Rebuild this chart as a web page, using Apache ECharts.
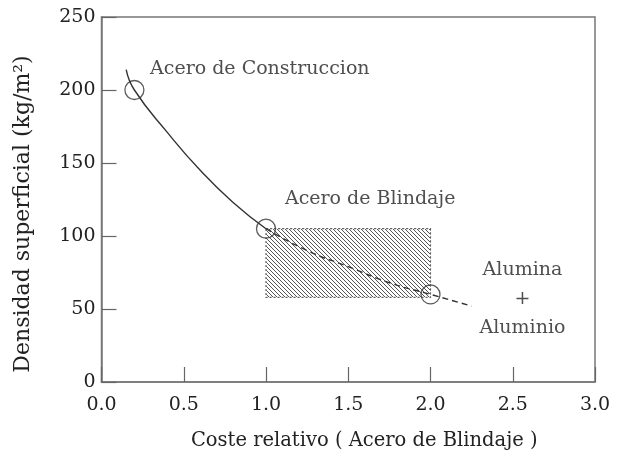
<!DOCTYPE html>
<html><head><meta charset="utf-8">
<script src="https://cdn.jsdelivr.net/npm/echarts@6/dist/echarts.min.js"></script>
<style>html,body{margin:0;padding:0;background:#fff}#c{width:623px;height:456px}</style>
</head><body><div id="c"></div>
<script>
// Data
var materials = ['Acero de Construccion', 'Acero de Blindaje', 'Alumina\n+\nAluminio'];
var costs = [0.2, 1.0, 2.0];
var densities = [200, 105, 60];
var curveSolid = [[0.15, 214], [0.2, 200], [0.4, 171], [0.6, 145], [0.8, 123], [1.0, 105]];
var curveDashed = [[1.0, 105], [1.25, 90], [1.5, 79], [1.75, 68], [2.0, 60], [2.25, 52]];
var hatchBox = [[1.0, 58, 2.0, 105]];
var labelPos = [[0.295, 214.6], [1.115, 125.3], [2.559, 56.5]];
var xTicks = ['0.0', '0.5', '1.0', '1.5', '2.0', '2.5', '3.0'];
var yTicks = [0, 50, 100, 150, 200, 250];
var xTitle = 'Coste relativo ( Acero de Blindaje )';
var yTitle = 'Densidad superficial (kg/m²)';

var FONT = 'DejaVu Serif';
var INK = '#222';

// hatch pattern
var pc = document.createElement('canvas');
pc.width = 4; pc.height = 4;
var g = pc.getContext('2d');
g.strokeStyle = '#555'; g.lineWidth = 1;
for (var i = -4; i <= 4; i += 4) { g.beginPath(); g.moveTo(i, 0); g.lineTo(i + 4, 4); g.stroke(); }

var chart = echarts.init(document.getElementById('c'), null, {renderer: 'canvas'});
chart.setOption({
  animation: false,
  backgroundColor: '#fff',
  grid: {left: 101.5, right: 28, top: 17, bottom: 72, show: true, borderColor: '#777', borderWidth: 1.5},
  graphic: [{
    type: 'text', x: 23, y: 214, rotation: Math.PI / 2, silent: true,
    style: {text: yTitle, fontFamily: FONT, fontSize: 22, fill: INK, align: 'center', verticalAlign: 'middle'}
  }],
  xAxis: {
    type: 'value', min: 0, max: 3, interval: 0.5,
    name: xTitle, nameLocation: 'middle', nameGap: 49,
    nameTextStyle: {fontFamily: FONT, fontSize: 19.5, color: INK, padding: [0, 0, 0, 32]},
    axisLine: {lineStyle: {color: '#777', width: 1.5}},
    axisTick: {inside: true, length: 15, lineStyle: {color: '#666', width: 1.2}},
    axisLabel: {fontFamily: FONT, fontSize: 19, color: INK, margin: 14,
      formatter: function (v) { return xTicks[Math.round(v / 0.5)]; }},
    splitLine: {show: false}
  },
  yAxis: {
    type: 'value', min: 0, max: 250, interval: 50,
    axisLine: {lineStyle: {color: '#777', width: 1.5}},
    axisTick: {inside: true, length: 15, lineStyle: {color: '#666', width: 1.2}},
    axisLabel: {fontFamily: FONT, fontSize: 19, color: INK, margin: 6,
      formatter: function (v) { return String(yTicks[Math.round(v / 50)]); }},
    splitLine: {show: false}
  },
  series: [
    {
      type: 'custom', z: 1,
      renderItem: function (params, api) {
        var p0 = api.coord([api.value(0), api.value(3)]);
        var p1 = api.coord([api.value(2), api.value(1)]);
        return {type: 'rect', shape: {x: p0[0], y: p0[1], width: p1[0] - p0[0], height: p1[1] - p0[1]},
          style: {fill: {image: pc, repeat: 'repeat'}, stroke: '#666', lineWidth: 1.2, lineDash: [2, 2]}};
      },
      data: hatchBox
    },
    {type: 'line', smooth: true, symbol: 'none', z: 2, data: curveSolid,
      lineStyle: {color: '#333', width: 1.4}},
    {type: 'line', smooth: true, symbol: 'none', z: 2, data: curveDashed,
      lineStyle: {color: '#333', width: 1.4, type: [6, 4]}},
    {type: 'scatter', symbol: 'circle', symbolSize: 19, z: 3,
      itemStyle: {color: 'rgba(0,0,0,0)', borderColor: '#333', borderWidth: 1.3},
      data: costs.map(function (c, i) { return [c, densities[i]]; })},
    {type: 'scatter', symbolSize: 0, z: 4, silent: true,
      data: labelPos.map(function (p, i) {
        return {value: p, label: {show: true, formatter: materials[i],
          position: i === 2 ? 'inside' : 'right', distance: 0,
          align: i === 2 ? 'center' : 'left', verticalAlign: 'middle',
          fontFamily: FONT, fontSize: 19, color: INK, lineHeight: 29}};
      })}
  ]
});
</script></body></html>
